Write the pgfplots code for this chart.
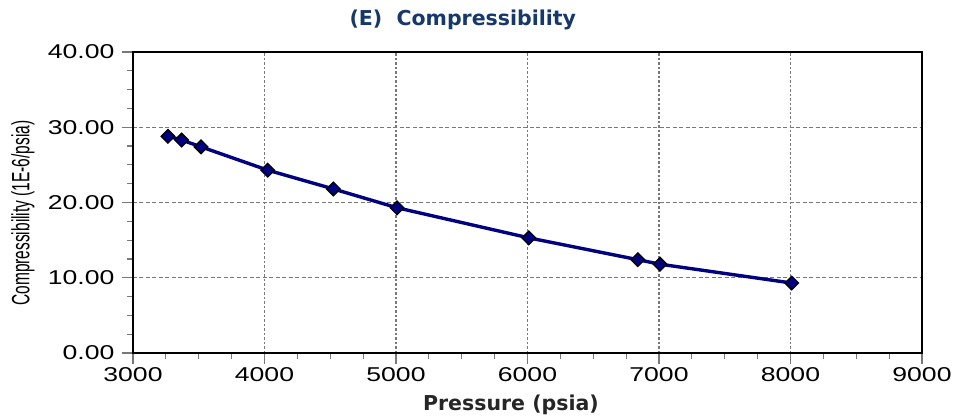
\documentclass[border=0pt]{standalone}
\usepackage{pgfplots}
\pgfplotsset{compat=1.18}
\usepackage{fontspec}
\setmainfont{Liberation Sans}
\newfontfamily\tickfont[FakeStretch=1.33]{Liberation Sans}
\newfontfamily\narrowfont[FakeStretch=0.62]{Liberation Sans}
\newfontfamily\boldfont{DejaVu Sans Bold}
\definecolor{titleblue}{RGB}{22,56,106}
\definecolor{linenavy}{RGB}{0,0,128}
\definecolor{gridgray}{RGB}{120,120,120}
\begin{document}
\begin{tikzpicture}
\begin{axis}[
  scale only axis,
  width=789bp, height=301bp,
  xmin=3000, xmax=9000, ymin=0, ymax=40,
  xtick={3000,4000,...,9000},
  ytick={0,10,20,30,40},
  minor x tick num=3,
  minor y tick num=3,
  xtick pos=bottom, ytick pos=left,
  tick align=outside,
  major tick length=11bp,
  minor tick length=6bp,
  every tick/.style={gridgray, line width=1.2bp},
  axis line style={black, line width=2bp},
  grid=major,
  x grid style={gridgray, line width=1.2bp, dash pattern=on 2.5bp off 2bp},
  y grid style={gridgray, line width=1.2bp, dash pattern=on 4bp off 2.5bp},
  tick label style={font=\tickfont\fontsize{20bp}{22bp}\selectfont, black},
  /pgf/number format/assume math mode=true,
  x tick label style={/pgf/number format/1000 sep={}},
  y tick label style={xshift=-4bp, /pgf/number format/.cd, fixed, fixed zerofill, precision=2},
  title={(E)\ \ Compressibility},
  title style={font=\boldfont\fontsize{20.5bp}{22bp}\selectfont, text=titleblue, at={(0.418,1)}, anchor=center, yshift=26bp},
  xlabel={Pressure (psia)},
  xlabel style={font=\boldfont\fontsize{20.5bp}{22bp}\selectfont, text=black!85, at={(0.479,0)}, anchor=center, yshift=-52bp},
  ylabel={Compressibility (1E-6/psia)},
  ylabel style={font=\narrowfont\fontsize{25bp}{27bp}\selectfont, at={(-0.1395,0.465)}, anchor=center},
]
\addplot[color=linenavy, line width=3.4bp, mark=square*, mark size=4.8bp,
  mark options={rotate=45, fill=linenavy, draw=black, line width=1.3bp, solid}]
  coordinates {
  (3266,28.8) (3370,28.3) (3517,27.4) (4024,24.3) (4524,21.8)
  (5008,19.3) (6010,15.3) (6839,12.4) (7008,11.8) (8009,9.3)
  };
\end{axis}
\path[use as bounding box] (-133bp,-64bp) rectangle (824bp,353bp);
\end{tikzpicture}
\end{document}
